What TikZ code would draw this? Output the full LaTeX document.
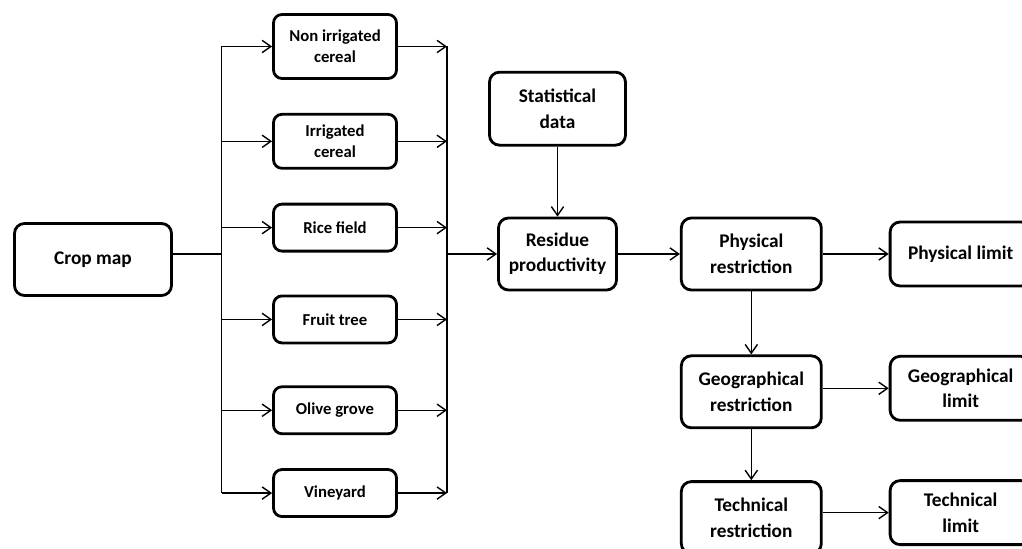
\documentclass[tikz,border=0pt]{standalone}
\usepackage{fontspec}
\setmainfont{Carlito}
\usetikzlibrary{arrows.meta, positioning}

\begin{document}
\begin{tikzpicture}[
  node distance=0.66cm,
  blk/.style={rectangle, rounded corners=0.2cm, draw, line width=1.6pt,
              minimum width=2.8cm, minimum height=1.44cm, align=center,
              font=\fontsize{11}{14.5}\selectfont\bfseries},
  crp/.style={blk, rounded corners=0.17cm, minimum width=2.46cm, minimum height=0.94cm,
              font=\fontsize{9.5}{12}\selectfont\bfseries},
  lim/.style={blk, minimum width=2.82cm, minimum height=1.28cm},
  arr/.style={-{Straight Barb[length=5pt, width=7pt]}, line width=0.8pt},
  ln/.style={line width=0.8pt}
]
\useasboundingbox (0,0) rectangle (20.44,10.98);

\node[blk, minimum width=3.14cm] (crop) at (1.86,5.79) {Crop map};

% crop types
\node[crp, minimum height=1.28cm] (nonirr) at (6.70,10.05) {Non irrigated\\cereal};
\node[crp, minimum height=1.08cm, below=0.66cm of nonirr] (irr) {Irrigated\\cereal};
\node[crp, below=0.66cm of irr] (rice) {Rice field};
\node[crp, below=0.84cm of rice] (fruit) {Fruit tree};
\node[crp, below=0.82cm of fruit] (olive) {Olive grove};
\node[crp, below=0.66cm of olive] (vine) {Vineyard};

\node[blk, minimum width=2.36cm] (res) at (11.15,5.90) {Residue\\productivity};
\node[blk, minimum width=2.72cm, minimum height=1.46cm, above=1.40cm of res] (stat) {Statistical\\data};
\node[blk, right=1.24cm of res] (phys) {Physical\\restriction};
\node[lim, right=1.32cm of phys] (physlim) {Physical limit};
\node[blk, below=1.26cm of phys] (geo) {Geographical\\restriction};
\node[lim, right=1.32cm of geo, yshift=0.07cm] (geolim) {Geographical\\limit};
\node[blk, below=1.02cm of geo] (tech) {Technical\\restriction};
\node[lim, right=1.32cm of tech, yshift=0.1cm] (techlim) {Technical\\limit};

\coordinate (lbus) at (4.43,5.90);
\coordinate (rbus) at (8.94,5.90);

\draw[ln] (crop.east |- lbus) -- (lbus);
\draw[ln] (lbus |- nonirr) -- (lbus |- vine);
\draw[arr] (lbus |- nonirr) -- (nonirr);
\draw[arr] (lbus |- irr) -- (irr);
\draw[arr] (lbus |- rice) -- (rice);
\draw[arr] (lbus |- fruit) -- (fruit);
\draw[arr] (lbus |- olive) -- (olive);
\draw[arr] (lbus |- vine) -- (vine);

\draw[arr] (nonirr) -- (rbus |- nonirr);
\draw[arr] (irr) -- (rbus |- irr);
\draw[arr] (rice) -- (rbus |- rice);
\draw[arr] (fruit) -- (rbus |- fruit);
\draw[arr] (olive) -- (rbus |- olive);
\draw[arr] (vine) -- (rbus |- vine);
\draw[ln] (rbus |- nonirr) -- (rbus |- vine);

\draw[arr] (rbus) -- (res);
\draw[arr] (stat) -- (res);
\draw[arr] (res) -- (phys);
\draw[arr] (phys) -- (physlim);
\draw[arr] (phys) -- (geo);
\draw[arr] (geo.east |- geolim) -- (geolim);
\draw[arr] (geo) -- (tech);
\draw[arr] (tech.east |- techlim) -- (techlim);

\end{tikzpicture}
\end{document}
